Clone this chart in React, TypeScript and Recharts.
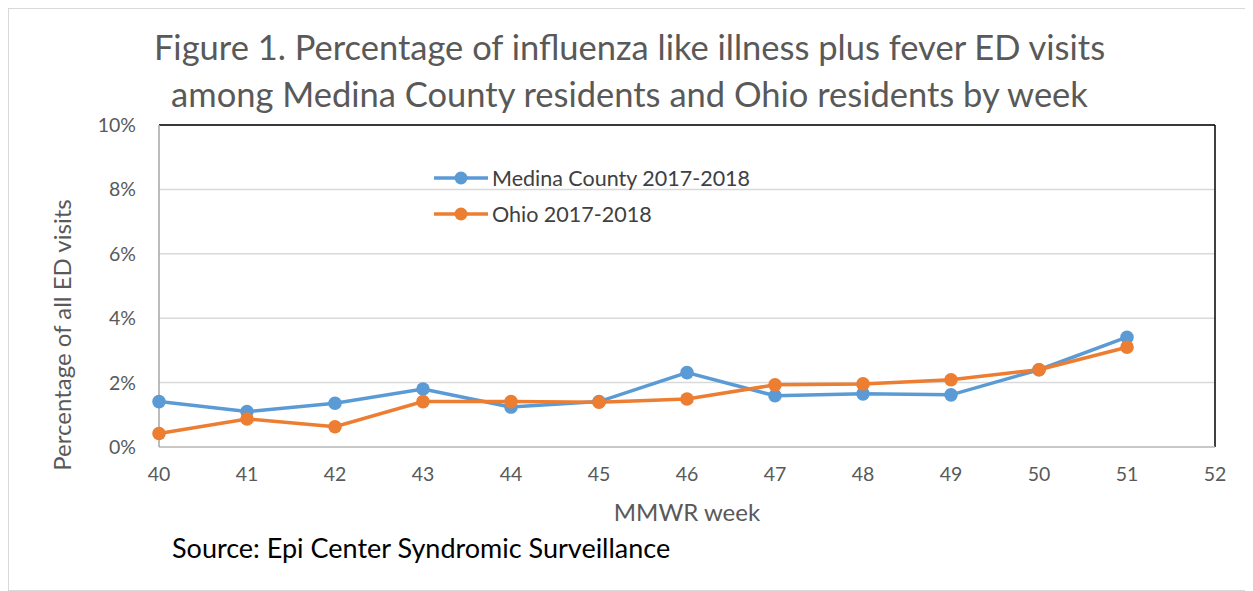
import { LineChart, Line, XAxis, YAxis, CartesianGrid, ReferenceLine } from "recharts"

const weeks = [40, 41, 42, 43, 44, 45, 46, 47, 48, 49, 50, 51]
const medina = [1.41, 1.1, 1.36, 1.8, 1.24, 1.41, 2.31, 1.59, 1.65, 1.62, 2.4, 3.41]
const ohio = [0.42, 0.87, 0.63, 1.41, 1.41, 1.39, 1.49, 1.93, 1.96, 2.09, 2.4, 3.1]
const xTicks = [40, 41, 42, 43, 44, 45, 46, 47, 48, 49, 50, 51, 52]
const yTicks = [0, 2, 4, 6, 8, 10]

const data = weeks.map((w, i) => ({ week: w, medina: medina[i], ohio: ohio[i] }))

const FONT = "Lato, 'Open Sans', sans-serif"
const BLUE = "#5B9BD5"
const ORANGE = "#ED7D31"

const legendItems = [
  { name: "Medina County 2017-2018", color: BLUE },
  { name: "Ohio 2017-2018", color: ORANGE },
]

function LegendBox() {
  return (
    <div style={{ fontFamily: FONT, fontSize: 21.5, color: "#404040" }}>
      {legendItems.map((it) => (
        <div key={it.name} style={{ display: "flex", alignItems: "center", height: 36 }}>
          <svg width={58} height={16}>
            <line x1={2} y1={8} x2={56} y2={8} stroke={it.color} strokeWidth={3.5} />
            <circle cx={29} cy={8} r={6.5} fill={it.color} />
          </svg>
          <span style={{ marginLeft: 2 }}>{it.name}</span>
        </div>
      ))}
    </div>
  )
}

// y-axis title sits lower than the plot centre in the original
const YTitle = () => (
  <text
    transform="rotate(-90, 52, 326)"
    x={52}
    y={326}
    textAnchor="middle"
    dominantBaseline="central"
    fontFamily={FONT}
    fontSize={24}
    fill="#595959"
  >
    Percentage of all ED visits
  </text>
)

export default function App() {
  return (
    <div style={{ position: "relative", width: 1245, height: 583, border: "1px solid #d9d9d9", boxSizing: "border-box", background: "#fff" }}>
      <div
        style={{
          position: "absolute",
          top: 14,
          left: 0,
          width: 1245,
          textAlign: "center",
          fontFamily: FONT,
          fontSize: 34.5,
          lineHeight: "47px",
          color: "#595959",
        }}
      >
        <div style={{ marginLeft: -4 }}>Figure 1. Percentage of influenza like illness plus fever ED visits</div>
        <div style={{ marginLeft: -4 }}>among Medina County residents and Ohio residents by week</div>
      </div>
      <LineChart width={1245} height={583} data={data} margin={{ top: 116, right: 39, bottom: 115, left: 90 }}>
        <CartesianGrid horizontal vertical={false} stroke="#d9d9d9" strokeWidth={1.5} />
        <XAxis
          dataKey="week"
          type="number"
          domain={[40, 52]}
          ticks={xTicks}
          height={30}
          tickLine={false}
          axisLine={{ stroke: "#bfbfbf", strokeWidth: 1.5 }}
          tick={{ fontFamily: FONT, fontSize: 19.5, fill: "#595959" }}
          tickMargin={14}
          label={{ value: "MMWR week", position: "insideBottom", offset: -44, fontFamily: FONT, fontSize: 24, fill: "#595959" }}
        />
        <YAxis
          domain={[0, 10]}
          ticks={yTicks}
          width={60}
          tickLine={false}
          axisLine={{ stroke: "#a6a6a6", strokeWidth: 1.5 }}
          tickFormatter={(v: number) => `${v}%`}
          tick={{ fontFamily: FONT, fontSize: 19.5, fill: "#595959" }}
          tickMargin={17}
          label={{ content: YTitle }}
        />
        <ReferenceLine y={10} stroke="#000" strokeWidth={1.5} />
        <ReferenceLine x={52} stroke="#000" strokeWidth={1.5} />
        <Line
          dataKey="medina"
          name="Medina County 2017-2018"
          stroke={BLUE}
          strokeWidth={3.5}
          dot={{ r: 6.8, fill: BLUE, stroke: BLUE, strokeWidth: 0 }}
          isAnimationActive={false}
        />
        <Line
          dataKey="ohio"
          name="Ohio 2017-2018"
          stroke={ORANGE}
          strokeWidth={3.5}
          dot={{ r: 6.8, fill: ORANGE, stroke: ORANGE, strokeWidth: 0 }}
          isAnimationActive={false}
        />
      </LineChart>
      <div style={{ position: "absolute", left: 423, top: 151 }}>
        <LegendBox />
      </div>
      <div
        style={{
          position: "absolute",
          left: 163,
          top: 522,
          fontFamily: FONT,
          fontSize: 27,
          color: "#000",
        }}
      >
        Source: Epi Center Syndromic Surveillance
      </div>
    </div>
  )
}
